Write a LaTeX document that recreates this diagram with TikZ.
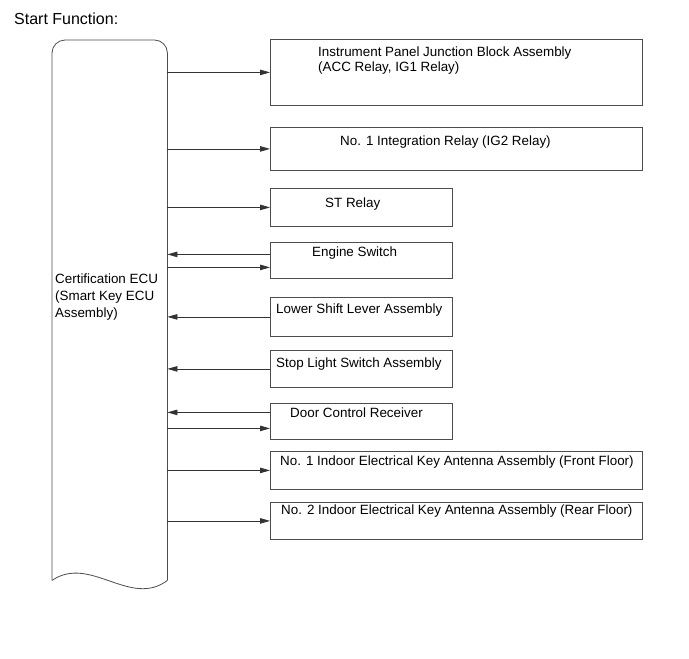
\documentclass[tikz,border=0pt]{standalone}
\usepackage{fontspec}
\setmainfont{Liberation Sans}
\usetikzlibrary{arrows.meta}

\begin{document}
\begin{tikzpicture}[x=1pt,y=-1pt,>={Triangle[length=10pt,width=5.5pt]},
  unit/.style={draw=black!70, line width=0.8pt, inner sep=0pt, anchor=north west},
  wide/.style={unit, minimum width=372pt},
  narrow/.style={unit, minimum width=182pt},
  lbl/.style={font=\fontsize{13.4}{15}\selectfont, inner sep=0pt, anchor=north west, align=left},
  wire/.style={draw=black!80, line width=0.8pt},
  ecuedge/.style={draw=black!70, line width=0.8pt}
]
  \useasboundingbox (0,0) rectangle (689,659);
  \node[font=\fontsize{16}{18}\selectfont, inner sep=0pt, anchor=base west] (heading) at (14,24) {Start Function:};

  % ECU column with wavy foot
  \node[inner sep=0pt, minimum width=115pt, minimum height=540pt, anchor=north west] (ecu) at (52,40) {};
  \draw[ecuedge, rounded corners=13pt] (ecu.south west) -- (ecu.north west) -- (ecu.north east) -- (ecu.south east);
  \draw[ecuedge] (ecu.south west) .. controls +(38,-26) and +(-37,28) .. (ecu.south east);
  \node[lbl, font=\fontsize{13.4}{17}\selectfont] (ecutext) at ([xshift=3pt,yshift=-233.4pt]ecu.north west) {Certification ECU\\(Smart Key ECU\\Assembly)};

  % units
  \node[wide, minimum height=66pt] (ipjb) at (270,39) {};
  \node[wide, minimum height=43pt] (ig2relay) at (270,127) {};
  \node[narrow, minimum height=38pt] (strelay) at (270,188) {};
  \node[narrow, minimum height=36pt] (engsw) at (270,242) {};
  \node[narrow, minimum height=39pt] (lever) at (270,297) {};
  \node[narrow, minimum height=37pt] (stopsw) at (270,350) {};
  \node[narrow, minimum height=36pt] (doorrx) at (270,403) {};
  \node[wide, minimum height=38pt] (ant1) at (270,451) {};
  \node[wide, minimum height=37pt] (ant2) at (270,502) {};

  \node[lbl] (ipjbtext) at ([xshift=48pt,yshift=-7.4pt]ipjb.north west) {Instrument Panel Junction Block Assembly\\(ACC Relay, IG1 Relay)};
  \node[lbl] (ig2text) at ([xshift=70pt,yshift=-8.4pt]ig2relay.north west) {No. 1 Integration Relay (IG2 Relay)};
  \node[lbl] (sttext) at ([xshift=55pt,yshift=-9.4pt]strelay.north west) {ST Relay};
  \node[lbl] (engtext) at ([xshift=42pt,yshift=-4.4pt]engsw.north west) {Engine Switch};
  \node[lbl] (levertext) at ([xshift=6pt,yshift=-6.4pt]lever.north west) {Lower Shift Lever Assembly};
  \node[lbl] (stoptext) at ([xshift=6pt,yshift=-7.4pt]stopsw.north west) {Stop Light Switch Assembly};
  \node[lbl] (doortext) at ([xshift=20pt,yshift=-5pt]doorrx.north west) {Door Control Receiver};
  \node[lbl] (ant1text) at ([xshift=10pt,yshift=-4.4pt]ant1.north west) {No. 1 Indoor Electrical Key Antenna Assembly (Front Floor)};
  \node[lbl] (ant2text) at ([xshift=11pt,yshift=-2.4pt]ant2.north west) {No. 2 Indoor Electrical Key Antenna Assembly (Rear Floor)};

  % signal lines
  \draw[wire,->] (ecu.east |- ipjb.west) -- (ipjb.west);
  \draw[wire,->] (ecu.east |- ig2relay.west) -- (ig2relay.west);
  \draw[wire,->] (ecu.east |- strelay.west) -- (strelay.west);
  \draw[wire,<-] ([yshift=6pt]ecu.east |- engsw.west) -- ([yshift=6pt]engsw.west);
  \draw[wire,->] ([yshift=-7pt]ecu.east |- engsw.west) -- ([yshift=-7pt]engsw.west);
  \draw[wire,<-] (ecu.east |- lever.west) -- (lever.west);
  \draw[wire,<-] (ecu.east |- stopsw.west) -- (stopsw.west);
  \draw[wire,<-] ([yshift=9pt]ecu.east |- doorrx.west) -- ([yshift=9pt]doorrx.west);
  \draw[wire,->] ([yshift=-7pt]ecu.east |- doorrx.west) -- ([yshift=-7pt]doorrx.west);
  \draw[wire,->] (ecu.east |- ant1.west) -- (ant1.west);
  \draw[wire,->] (ecu.east |- ant2.west) -- (ant2.west);
\end{tikzpicture}
\end{document}
